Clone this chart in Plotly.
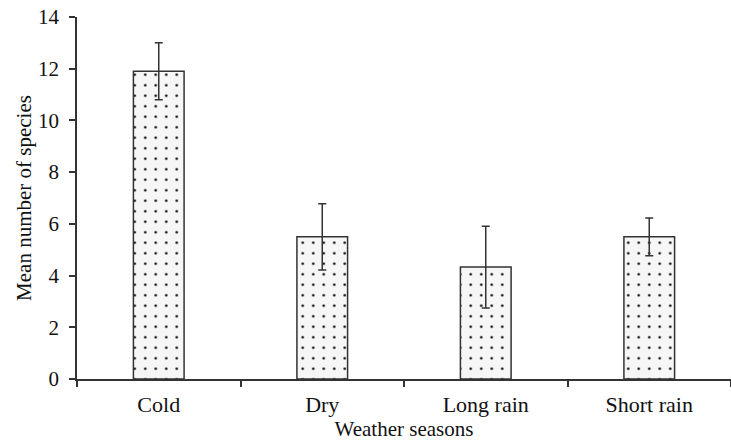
import plotly.graph_objects as go

categories = ["Cold", "Dry", "Long rain", "Short rain"]
means = [11.9, 5.5, 4.33, 5.5]
errors = [1.1, 1.28, 1.58, 0.73]
y_ticks = [0, 2, 4, 6, 8, 10, 12, 14]

FONT = "Liberation Serif, Times New Roman, serif"

fig = go.Figure()
fig.add_trace(go.Bar(
    x=categories,
    y=means,
    width=0.31,
    marker=dict(
        color="#f5f5f5",
        line=dict(color="#333333", width=1.5),
        pattern=dict(shape=".", fgcolor="#000000", bgcolor="#f6f6f6",
                     size=10.5, solidity=0.045, fillmode="replace"),
    ),
    error_y=dict(type="data", array=errors, visible=True,
                 color="#333333", thickness=1.5, width=4),
    showlegend=False,
))

fig.update_layout(
    width=731, height=443,
    margin=dict(l=77, r=0, t=17, b=64),
    paper_bgcolor="white", plot_bgcolor="white",
    font=dict(family=FONT, size=21, color="#111111"),
    xaxis=dict(
        title=dict(text="Weather seasons", font=dict(family=FONT, size=21), standoff=2),
        showline=True, linecolor="#333333", linewidth=1.5,
        ticks="outside", tickson="boundaries", ticklen=6, tickcolor="#333333", tickwidth=1.5,
        tickfont=dict(family=FONT, size=22), ticklabelstandoff=5,
        showgrid=False, zeroline=False,
    ),
    yaxis=dict(
        title=dict(text="Mean number of species", font=dict(family=FONT, size=21), standoff=1),
        range=[0, 14], tickvals=y_ticks,
        showline=True, linecolor="#333333", linewidth=1.5,
        ticks="outside", ticklen=6, tickcolor="#333333", tickwidth=1.5,
        tickfont=dict(family=FONT, size=21), ticklabelstandoff=6,
        showgrid=False, zeroline=False,
    ),
)

fig.write_html("out.html")
